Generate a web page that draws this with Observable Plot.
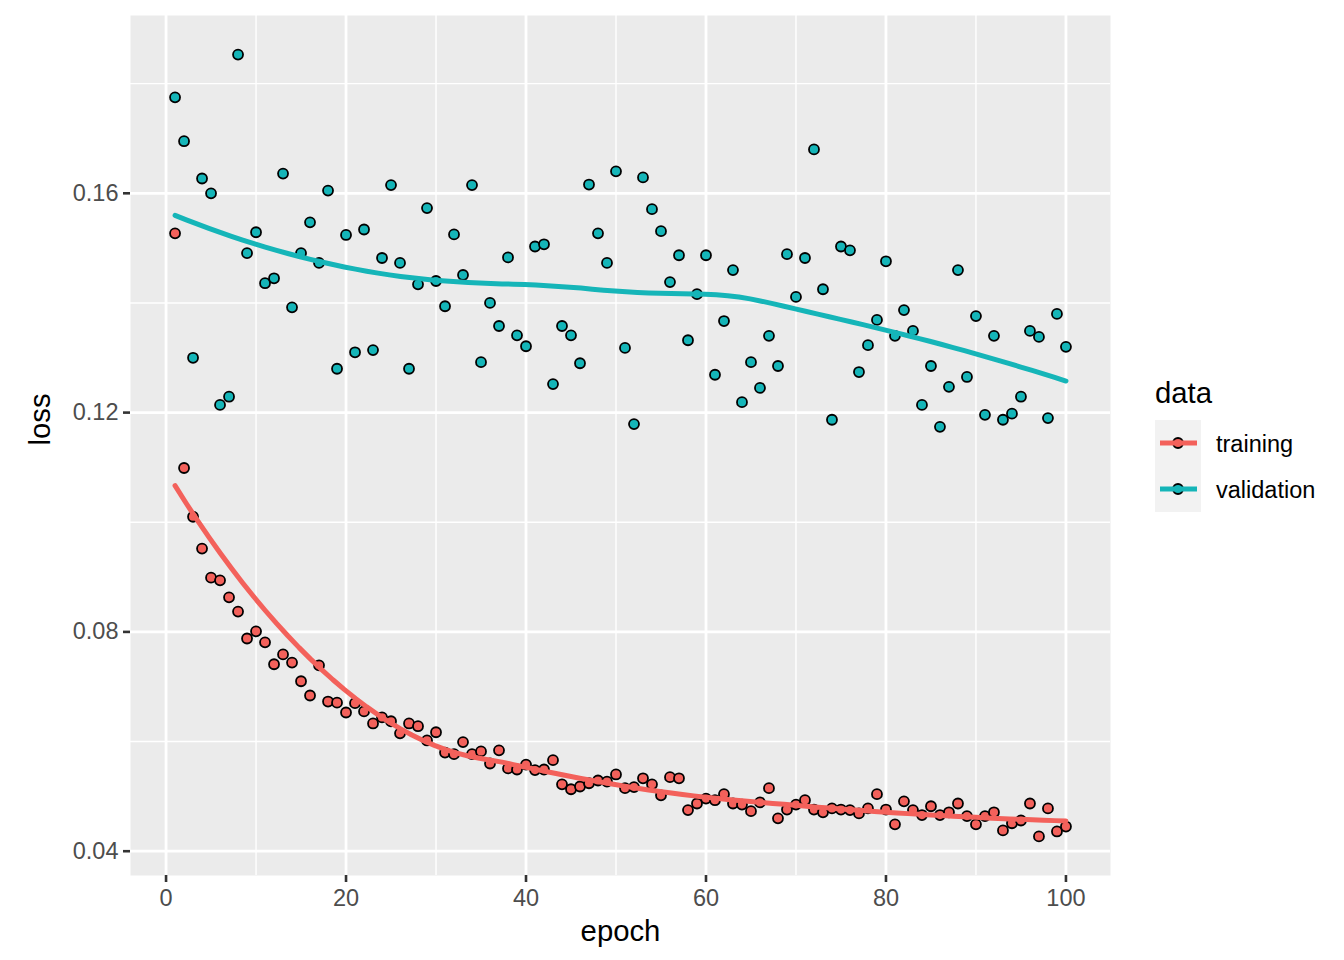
<!DOCTYPE html>
<html>
<head>
<meta charset="utf-8">
<script src="https://cdn.jsdelivr.net/npm/d3@7"></script>
<script src="https://cdn.jsdelivr.net/npm/@observablehq/plot@0.6"></script>
<style>
  html, body { margin: 0; padding: 0; background: #ffffff; }
  #wrap { position: relative; width: 1344px; height: 960px; font-family: "Liberation Sans", Arial, Helvetica, sans-serif; }
  #legend { position: absolute; left: 1145px; top: 370px; }
</style>
</head>
<body>
<div id="wrap"></div>
<script>
// ---- data ----
const seriesNames = ["training", "validation"];
const seriesColors = ["#F3615B", "#15B5B8"];
const legendTitle = "data";
const xTitle = "epoch";
const yTitle = "loss";
const epochs = d3.range(1, 101);
const trainingLoss = [
  0.1527, 0.1099, 0.1010, 0.0952, 0.0899, 0.0894, 0.0863, 0.0837, 0.0788, 0.0801,
  0.0781, 0.0741, 0.0759, 0.0744, 0.0710, 0.0684, 0.0739, 0.0673, 0.0671, 0.0653,
  0.0670, 0.0655, 0.0633, 0.0644, 0.0637, 0.0615, 0.0633, 0.0628, 0.0602, 0.0617,
  0.0580, 0.0577, 0.0599, 0.0577, 0.0582, 0.0560, 0.0584, 0.0551, 0.0549, 0.0558,
  0.0548, 0.0549, 0.0566, 0.0522, 0.0513, 0.0518, 0.0524, 0.0529, 0.0527, 0.0540,
  0.0515, 0.0517, 0.0533, 0.0522, 0.0502, 0.0535, 0.0533, 0.0475, 0.0487, 0.0496,
  0.0493, 0.0504, 0.0487, 0.0485, 0.0473, 0.0489, 0.0515, 0.0460, 0.0476, 0.0485,
  0.0493, 0.0476, 0.0471, 0.0478, 0.0476, 0.0475, 0.0469, 0.0478, 0.0504, 0.0476,
  0.0449, 0.0491, 0.0475, 0.0466, 0.0482, 0.0466, 0.0471, 0.0487, 0.0464, 0.0449,
  0.0464, 0.0471, 0.0438, 0.0451, 0.0456, 0.0487, 0.0427, 0.0478, 0.0436, 0.0445
];
const validationLoss = [
  0.1775, 0.1695, 0.1300, 0.1627, 0.1600, 0.1214, 0.1229, 0.1853, 0.1491, 0.1529,
  0.1436, 0.1445, 0.1636, 0.1392, 0.1491, 0.1547, 0.1473, 0.1605, 0.1280, 0.1524,
  0.1310, 0.1534, 0.1314, 0.1482, 0.1615, 0.1473, 0.1280, 0.1434, 0.1573, 0.1440,
  0.1394, 0.1525, 0.1451, 0.1615, 0.1292, 0.1400, 0.1358, 0.1483, 0.1341, 0.1321,
  0.1503, 0.1507, 0.1252, 0.1358, 0.1341, 0.1290, 0.1616, 0.1527, 0.1473, 0.1640,
  0.1318, 0.1179, 0.1629, 0.1571, 0.1531, 0.1438, 0.1487, 0.1332, 0.1416, 0.1487,
  0.1269, 0.1367, 0.1460, 0.1219, 0.1292, 0.1245, 0.1340, 0.1285, 0.1489, 0.1411,
  0.1482, 0.1680, 0.1425, 0.1187, 0.1503, 0.1496, 0.1274, 0.1323, 0.1369, 0.1476,
  0.1340, 0.1387, 0.1349, 0.1214, 0.1285, 0.1174, 0.1247, 0.1460, 0.1265, 0.1376,
  0.1196, 0.1340, 0.1187, 0.1198, 0.1229, 0.1349, 0.1338, 0.1190, 0.1380, 0.1320
];
const xMajorTicks = [0, 20, 40, 60, 80, 100];
const xMinorTicks = [10, 30, 50, 70, 90];
const yMajorTicks = [0.04, 0.08, 0.12, 0.16];
const yMinorTicks = [0.06, 0.10, 0.14, 0.18];
const yTickLabels = ["0.04", "0.08", "0.12", "0.16"];

// ---- build table ----
const points = [];
epochs.forEach((e, i) => {
  points.push({epoch: e, loss: trainingLoss[i], data: "training"});
  points.push({epoch: e, loss: validationLoss[i], data: "validation"});
});

// ---- loess (span 0.75, degree 2, tricube) like ggplot geom_smooth ----
function loess(xs, ys, span = 0.75, nOut = 80) {
  const n = xs.length;
  const q = Math.floor(n * span);
  const xmin = d3.min(xs), xmax = d3.max(xs);
  const out = [];
  for (let k = 0; k < nOut; k++) {
    const x0 = xmin + (xmax - xmin) * k / (nOut - 1);
    const dists = xs.map(x => Math.abs(x - x0));
    const sorted = dists.slice().sort((a, b) => a - b);
    let dmax = Math.max(sorted[q - 1], 1e-12);
    let S = [[0,0,0],[0,0,0],[0,0,0]], B = [0,0,0];
    for (let i = 0; i < n; i++) {
      const r = dists[i] / dmax;
      if (r >= 1) continue;
      const w = Math.pow(1 - r * r * r, 3);
      const u = xs[i] - x0;
      const v = [1, u, u * u];
      for (let a = 0; a < 3; a++) {
        B[a] += w * v[a] * ys[i];
        for (let b = 0; b < 3; b++) S[a][b] += w * v[a] * v[b];
      }
    }
    const M = S.map((row, i) => [...row, B[i]]);
    for (let c = 0; c < 3; c++) {
      let p = c;
      for (let r = c + 1; r < 3; r++) if (Math.abs(M[r][c]) > Math.abs(M[p][c])) p = r;
      [M[c], M[p]] = [M[p], M[c]];
      for (let r = c + 1; r < 3; r++) {
        const f = M[r][c] / M[c][c];
        for (let cc = c; cc < 4; cc++) M[r][cc] -= f * M[c][cc];
      }
    }
    const sol = [0,0,0];
    for (let r = 2; r >= 0; r--) {
      let s = M[r][3];
      for (let cc = r + 1; cc < 3; cc++) s -= M[r][cc] * sol[cc];
      sol[r] = s / M[r][r];
    }
    out.push({epoch: x0, loss: sol[0]});
  }
  return out;
}
const smooth = [];
loess(epochs, trainingLoss).forEach(d => smooth.push({...d, data: "training"}));
loess(epochs, validationLoss).forEach(d => smooth.push({...d, data: "validation"}));

// ggplot-style 5% expansion
const allY = trainingLoss.concat(validationLoss);
const yMin = d3.min(allY), yMax = d3.max(allY);
const yPad = (yMax - yMin) * 0.05;
const xMin = d3.min(epochs), xMax = d3.max(epochs);
const xPad = (xMax - xMin) * 0.05;

const tickColor = "#4D4D4D";
const font = "'Liberation Sans', Arial, Helvetica, sans-serif";
const chart = Plot.plot({
  width: 1344,
  height: 960,
  marginLeft: 130,
  marginRight: 234,
  marginTop: 15,
  marginBottom: 85,
  style: {fontFamily: font, background: "#ffffff"},
  x: {domain: [xMin - xPad, xMax + xPad]},
  y: {domain: [yMin - yPad, yMax + yPad]},
  color: {domain: seriesNames, range: seriesColors},
  marks: [
    Plot.frame({fill: "#EBEBEB", stroke: "none"}),
    Plot.gridX({ticks: xMinorTicks, stroke: "#ffffff", strokeOpacity: 1, strokeWidth: 1.4}),
    Plot.gridY({ticks: yMinorTicks, stroke: "#ffffff", strokeOpacity: 1, strokeWidth: 1.4}),
    Plot.gridX({ticks: xMajorTicks, stroke: "#ffffff", strokeOpacity: 1, strokeWidth: 2.8}),
    Plot.gridY({ticks: yMajorTicks, stroke: "#ffffff", strokeOpacity: 1, strokeWidth: 2.8}),
    Plot.axisX({ticks: xMajorTicks, tickSize: 7, tickPadding: 7, fontSize: 23.5, color: tickColor, stroke: "#333333", strokeWidth: 2.6, label: null}),
    Plot.axisY({ticks: yMajorTicks, tickFormat: (d, i) => yTickLabels[i], tickSize: 7, tickPadding: 5, fontSize: 23.5, color: tickColor, stroke: "#333333", strokeWidth: 2.6, label: null}),
    Plot.dot(points, {x: "epoch", y: "loss", fill: "data", stroke: "#000000", strokeWidth: 1.8, r: 5}),
    Plot.line(smooth, {x: "epoch", y: "loss", stroke: "data", strokeWidth: 5, z: "data", curve: "linear"}),
    Plot.text([xTitle], {frameAnchor: "bottom", dy: 56, fontSize: 29.3, fill: "#000000", lineAnchor: "middle"}),
    Plot.text([yTitle], {frameAnchor: "left", dx: -90, rotate: -90, fontSize: 29.3, fill: "#000000"})
  ]
});

const wrap = document.getElementById("wrap");
wrap.appendChild(chart);

// legend (ggplot-style, to the right of the panel)
const ns = "http://www.w3.org/2000/svg";
const lg = document.createElementNS(ns, "svg");
lg.setAttribute("id", "legend");
lg.setAttribute("width", 195);
lg.setAttribute("height", 150);
lg.style.fontFamily = font;
let inner = `<text x="10" y="33" font-size="29.3" fill="#000">${legendTitle}</text>
  <rect x="10" y="50" width="46" height="${46 * seriesNames.length}" fill="#F2F2F2"></rect>`;
seriesNames.forEach((name, i) => {
  const cy = 73 + 46 * i;
  inner += `<circle cx="33" cy="${cy}" r="5" fill="${seriesColors[i]}" stroke="#000" stroke-width="1.8"></circle>
    <line x1="15" x2="52" y1="${cy}" y2="${cy}" stroke="${seriesColors[i]}" stroke-width="5"></line>
    <text x="71" y="${cy + 8.5}" font-size="23.5" fill="#000">${name}</text>`;
});
lg.innerHTML = inner;
wrap.appendChild(lg);
</script>
</body>
</html>
